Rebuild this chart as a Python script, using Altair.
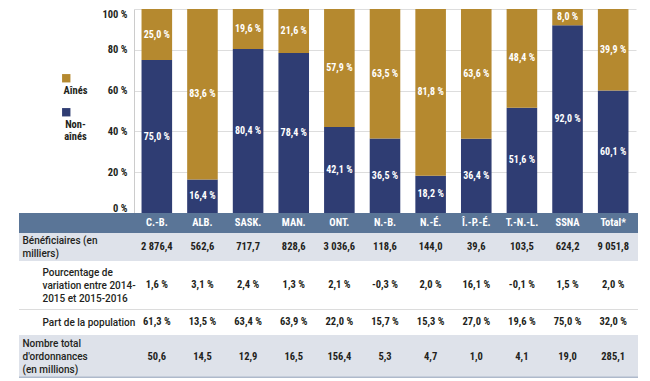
import altair as alt
import pandas as pd

regions = ["C.-B.", "ALB.", "SASK.", "MAN.", "ONT.", "N.-B.", "N.-É.", "Î.-P.-É.", "T.-N.-L.", "SSNA", "Total*"]
aines = [25.0, 83.6, 19.6, 21.6, 57.9, 63.5, 81.8, 63.6, 48.4, 8.0, 39.9]
non_aines = [75.0, 16.4, 80.4, 78.4, 42.1, 36.5, 18.2, 36.4, 51.6, 92.0, 60.1]
beneficiaires = [2876.4, 562.6, 717.7, 828.6, 3036.6, 118.6, 144.0, 39.6, 103.5, 624.2, 9051.8]
variation = [1.6, 3.1, 2.4, 1.3, 2.1, -0.3, 2.0, 16.1, -0.1, 1.5, 2.0]
part_population = [61.3, 13.5, 63.4, 63.9, 22.0, 15.7, 15.3, 27.0, 19.6, 75.0, 32.0]
ordonnances = [50.6, 14.5, 12.9, 16.5, 156.4, 5.3, 4.7, 1.0, 4.1, 19.0, 285.1]

groups = ["Aînés", "Non-aînés"]
colors = ["#B5892F", "#2F3D73"]

row_labels = [
    "Bénéficiaires (en|milliers)",
    "Pourcentage de|variation entre 2014-|2015 et 2015-2016",
    "Part de la population",
    "Nombre total|d'ordonnances|(en millions)",
]


def fr(v, pct=False, thousands=False):
    s = f"{v:,.1f}" if thousands else f"{v:.1f}"
    s = s.replace(",", " ").replace(".", ",")
    return s + (" %" if pct else "")


NARROW = "'Roboto Condensed', Roboto, sans-serif"
LABELF = "Roboto, 'Open Sans', sans-serif"
W = 502
LEFT = 115
LH = 13

# ---------- bar chart ----------
rows = []
for i, r in enumerate(regions):
    rows.append({"region": r, "group": "Non-aînés", "value": non_aines[i], "ord": 0,
                 "lab": fr(non_aines[i], pct=True)})
    rows.append({"region": r, "group": "Aînés", "value": aines[i], "ord": 1,
                 "lab": fr(aines[i], pct=True)})
bdf = pd.DataFrame(rows)

xband = alt.X("region:N", sort=regions, axis=None,
              scale=alt.Scale(paddingInner=0.33, paddingOuter=0.165))

bars = alt.Chart(bdf).mark_bar().encode(
    x=xband,
    y=alt.Y("value:Q", stack="normalize", title=None,
            axis=alt.Axis(values=[0, 0.2, 0.4, 0.6, 0.8, 1.0],
                          labelExpr="round(datum.value*100) + ' %'",
                          labelFlush=True, ticks=False, tickSize=0, labelPadding=7,
                          domainColor="#CCCCCC", gridColor="#DDDDDD",
                          labelFont=NARROW, labelFontWeight="bold", labelFontSize=10.5,
                          labelColor="#231F20")),
    color=alt.Color("group:N",
                    scale=alt.Scale(domain=groups, range=colors),
                    legend=alt.Legend(title=None, orient="none", legendX=-73, legendY=64,
                                      symbolType="square", symbolSize=70,
                                      symbolStrokeWidth=0,
                                      labelExpr="datum.label == 'Non-aînés' ? ['', 'Non-', 'aînés'] : ['', 'Aînés']",
                                      labelBaseline="middle",
                                      labelAlign="center", labelOffset=4,
                                      rowPadding=10,
                                      labelFont=NARROW, labelFontWeight="bold",
                                      labelFontSize=10.5, labelColor="#231F20")),
    order=alt.Order("ord:Q"),
)

btext = alt.Chart(bdf).transform_stack(
    stack="value", groupby=["region"], as_=["y0", "y1"], offset="normalize",
    sort=[alt.SortField("ord", order="ascending")]
).transform_calculate(mid="(datum.y0 + datum.y1) / 2").mark_text(
    color="white", font=NARROW, fontWeight="bold", fontSize=10
).encode(
    x=xband,
    y=alt.Y("mid:Q", title=None),
    text="lab:N",
)

bar_chart = alt.layer(bars, btext).properties(width=W, height=204)


# ---------- table ----------
def table_row(label, texts, height, bg, pad, text_color="#231F20", weight="bold",
              top_line=None, bottom_line=None, show_label=True):
    df = pd.DataFrame({"region": regions, "row": [label] * len(regions), "txt": texts})
    bgdf = pd.DataFrame({"row": [label]})
    layers = [alt.Chart(bgdf).mark_rect(color=bg).encode(
        x=alt.value(-LEFT), x2=alt.value(W + 2), y=alt.value(0), y2=alt.value(height))]
    if top_line:
        layers.append(alt.Chart(bgdf).mark_rule(color=top_line, strokeWidth=1).encode(
            x=alt.value(-LEFT), x2=alt.value(W + 2), y=alt.value(0.5)))
    if bottom_line:
        layers.append(alt.Chart(bgdf).mark_rule(color=bottom_line, strokeWidth=1.5).encode(
            x=alt.value(-LEFT), x2=alt.value(W + 2), y=alt.value(height - 0.75)))
    if show_label:
        n = label.count("|") + 1
        yaxis = alt.Axis(title=None, domain=False, ticks=False, tickSize=0,
                         labelAlign="left", labelPadding=pad, zindex=1,
                         labelBaseline="top", labelOffset=-(n * LH) / 2 + 1.5,
                         labelExpr="split(datum.label, '|')", labelLineHeight=LH,
                         labelFont=LABELF, labelFontSize=10, labelFontWeight=500,
                         labelColor="#231F20", labelLimit=200)
    else:
        yaxis = None
    layers.append(alt.Chart(df).mark_text(
        color=text_color, font=NARROW, fontWeight=weight, fontSize=10.5
    ).encode(
        x=alt.X("region:N", sort=regions, axis=None),
        y=alt.Y("row:N", axis=yaxis),
        text="txt:N",
    ))
    return alt.layer(*layers).properties(width=W, height=height)


header = table_row("", regions, 20, "#5A7597", 0, text_color="white", show_label=False)
row1 = table_row(row_labels[0], [fr(v, thousands=True) for v in beneficiaires], 28,
                 "#DEE2EA", 112)
row2 = table_row(row_labels[1], [fr(v, pct=True) for v in variation], 48,
                 "#FFFFFF", 92)
row3 = table_row(row_labels[2], [fr(v, pct=True) for v in part_population], 26,
                 "#FFFFFF", 92, top_line="#DCDCDC")
row4 = table_row(row_labels[3], [fr(v) for v in ordonnances], 43,
                 "#DEE2EA", 112, bottom_line="#AEB9CB")

chart = alt.vconcat(bar_chart, header, row1, row2, row3, row4,
                    spacing=0, bounds="flush").properties(
    padding={"left": 9, "top": 0, "right": 0, "bottom": 0}
).configure_view(stroke="transparent")

chart.save("out.html", embed_options={"renderer": "svg", "actions": False})
